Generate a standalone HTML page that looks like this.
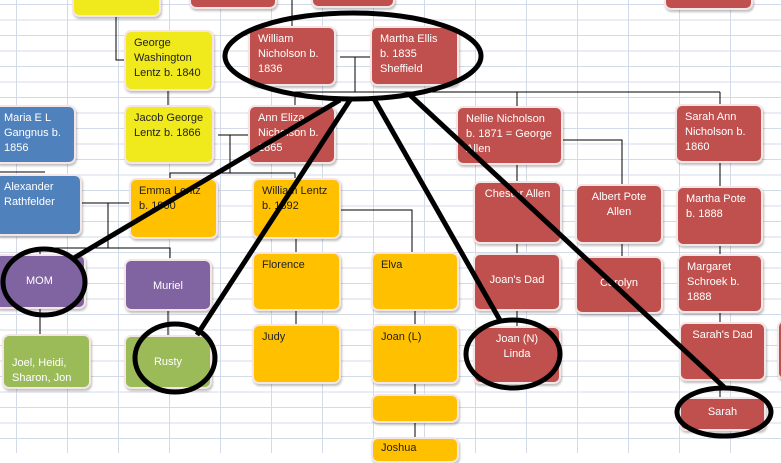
<!DOCTYPE html>
<html><head><style>
body{margin:0;width:781px;height:453px;overflow:hidden;background:#fff;position:relative;font-family:"Liberation Sans",sans-serif}
#grid{position:absolute;left:0;top:0;width:781px;height:453px;
background-image:linear-gradient(to right,#d4dbe8 1px,transparent 1px),linear-gradient(to bottom,#d4dbe8 1px,transparent 1px);
background-size:51px 100%,100% 15.5px;background-position:16px 0,0 4px}
.b{position:absolute;box-sizing:border-box;border:2px solid #f4e6e6;border-radius:7px;box-shadow:1px 2px 2px rgba(0,0,0,.25);font-size:11px;line-height:15px;padding:4px 8px;color:#fff}
.r{background:#c0504d}.y{background:#f0ea1c;color:#222}.o{background:#ffc000;color:#222}.bl{background:#4f81bd}.p{background:#8064a2}.g{background:#9bbb59}
.c{text-align:center}
svg{position:absolute;left:0;top:0}
</style></head><body>
<div id="grid"></div>
<svg width="781" height="453">
<g stroke="#000" stroke-width="1" fill="none">
<path d="M116 17V60H125"/><path d="M168 90V106"/>
<path d="M292 0V27"/>
<path d="M340 57H370M355 57V92M295 92H330M295 92V106M330 92H720M517 92V107M720 92V105"/>
<path d="M218 135H248M230 135V173H170V179M230 173H295V179"/>
<path d="M0 172H45M45 172H40M82 203H130M108 203V248H170V258M108 248H40V255"/>
<path d="M40 308V335M168 310V336M296 238V253M296 310V325M340 210H412V253M415 310V325M415 383V395M415 422V438"/>
<path d="M517 164V182M562 140H622V185M517 243V254M517 310V327M622 243V257M720 162V187M720 245V255M720 312V323M720 380V398"/>
</g>
</svg>
<div class="b y" style="left:72px;top:-8px;width:89px;height:25px"></div>
<div class="b r" style="left:189px;top:-8px;width:88px;height:17px"></div>
<div class="b r" style="left:311px;top:-8px;width:84px;height:16px"></div>
<div class="b r" style="left:664px;top:-8px;width:89px;height:18px"></div>
<div class="b y" style="left:124px;top:30px;width:90px;height:61px">George Washington Lentz b. 1840</div>
<div class="b r" style="left:248px;top:26px;width:88px;height:60px">William Nicholson b. 1836</div>
<div class="b r" style="left:370px;top:26px;width:89px;height:60px">Martha Ellis b. 1835 Sheffield</div>
<div class="b bl" style="left:-6px;top:105px;width:82px;height:59px">Maria E L Gangnus b. 1856</div>
<div class="b y" style="left:124px;top:105px;width:90px;height:59px">Jacob George Lentz b. 1866</div>
<div class="b r" style="left:248px;top:105px;width:88px;height:59px">Ann Eliza Nicholson b. 1865</div>
<div class="b r" style="left:456px;top:106px;width:107px;height:59px">Nellie Nicholson b. 1871 = George Allen</div>
<div class="b r" style="left:675px;top:104px;width:88px;height:59px">Sarah Ann Nicholson b. 1860</div>
<div class="b bl" style="left:-6px;top:174px;width:88px;height:62px">Alexander Rathfelder</div>
<div class="b o" style="left:129px;top:178px;width:89px;height:61px">Emma Lentz b. 1900</div>
<div class="b o" style="left:252px;top:178px;width:89px;height:61px">William Lentz b. 1892</div>
<div class="b r c" style="left:473px;top:181px;width:89px;height:63px">Chester Allen</div>
<div class="b r c" style="left:575px;top:184px;width:88px;height:60px">Albert Pote Allen</div>
<div class="b r" style="left:676px;top:186px;width:87px;height:60px">Martha Pote b. 1888</div>
<div class="b p" style="left:-6px;top:254px;width:92px;height:55px;padding-top:18px;padding-left:30px">MOM</div>
<div class="b p c" style="left:124px;top:259px;width:88px;height:52px;padding-top:18px">Muriel</div>
<div class="b o" style="left:252px;top:252px;width:89px;height:59px">Florence</div>
<div class="b o" style="left:371px;top:252px;width:88px;height:59px">Elva</div>
<div class="b r c" style="left:473px;top:253px;width:88px;height:58px;padding-top:18px">Joan's Dad</div>
<div class="b r c" style="left:575px;top:256px;width:88px;height:58px;padding-top:18px">Carolyn</div>
<div class="b r" style="left:677px;top:254px;width:86px;height:59px">Margaret Schroek b. 1888</div>
<div class="b g" style="left:2px;top:334px;width:89px;height:55px;padding-top:20px">Joel, Heidi, Sharon, Jon</div>
<div class="b g c" style="left:124px;top:335px;width:88px;height:54px;padding-top:18px">Rusty</div>
<div class="b o" style="left:252px;top:324px;width:89px;height:60px">Judy</div>
<div class="b o" style="left:371px;top:324px;width:88px;height:60px">Joan (L)</div>
<div class="b r c" style="left:473px;top:326px;width:88px;height:58px">Joan (N) Linda</div>
<div class="b r c" style="left:679px;top:322px;width:87px;height:59px">Sarah's Dad</div>
<div class="b o" style="left:371px;top:394px;width:88px;height:29px"></div>
<div class="b o" style="left:371px;top:437px;width:88px;height:26px;padding-top:2px">Joshua</div>
<div class="b r c" style="left:679px;top:397px;width:87px;height:34px;padding-top:6px">Sarah</div>
<div class="b r" style="left:777px;top:320px;width:12px;height:60px"></div>
<svg width="781" height="453">
<g stroke="#000" stroke-width="5" fill="none">
<ellipse cx="353" cy="56" rx="128" ry="43"/>
<ellipse cx="44" cy="282" rx="41" ry="33"/>
<ellipse cx="175" cy="358" rx="40" ry="34"/>
<ellipse cx="513" cy="354" rx="47" ry="34"/>
<ellipse cx="724" cy="412" rx="47" ry="24"/>
<path d="M340 100L74 258M350 100L197 335M373 97L501 322M410 95L725 388"/>
</g>
</svg>
</body></html>
